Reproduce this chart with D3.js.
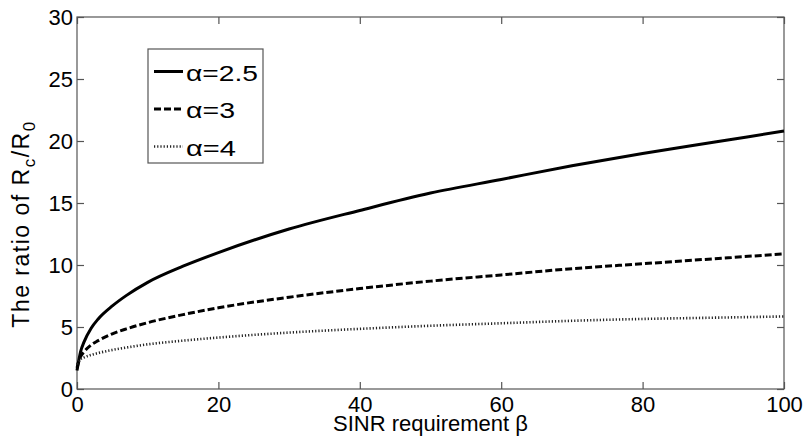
<!DOCTYPE html>
<html>
<head>
<meta charset="utf-8">
<script src="https://cdn.jsdelivr.net/npm/d3@7"></script>
<style>
  body { margin: 0; background: #fff; }
  text { font-family: "Liberation Sans", Arial, sans-serif; fill: #000; }
</style>
</head>
<body>
<div id="chart"></div>
<script>
const betas    = [0, 0.5, 1, 2, 3, 5, 7, 10, 15, 20, 30, 40, 50, 60, 70, 80, 90, 100];
const alpha25  = [1.5, 3.0, 3.8, 4.9, 5.65, 6.7, 7.55, 8.6, 9.9, 11.0, 12.9, 14.4, 15.8, 16.9, 18.0, 19.0, 19.9, 20.8];
const alpha3   = [1.7, 2.6, 3.0, 3.55, 3.9, 4.45, 4.85, 5.35, 6.0, 6.55, 7.4, 8.1, 8.7, 9.2, 9.7, 10.1, 10.5, 10.9];
const alpha4   = [2.0, 2.4, 2.55, 2.75, 2.9, 3.15, 3.35, 3.6, 3.9, 4.15, 4.55, 4.85, 5.1, 5.3, 5.5, 5.65, 5.75, 5.85];
const seriesNames = ["\u03b1=2.5", "\u03b1=3", "\u03b1=4"];
const xTicks = [0, 20, 40, 60, 80, 100];
const yTicks = [0, 5, 10, 15, 20, 25, 30];

const width = 805, height = 441;
const margin = { top: 17, right: 21, bottom: 52, left: 77 };
const innerWidth  = width  - margin.left - margin.right;
const innerHeight = height - margin.top  - margin.bottom;

const svg = d3.select("#chart")
  .append("svg")
  .attr("width", width)
  .attr("height", height);

const g = svg.append("g")
  .attr("transform", `translate(${margin.left}, ${margin.top})`);

const xScale = d3.scaleLinear().domain([0, 100]).range([0, innerWidth]);
const yScale = d3.scaleLinear().domain([0, 30]).range([innerHeight, 0]);

// box
g.append("rect")
  .attr("width", innerWidth)
  .attr("height", innerHeight)
  .attr("fill", "none")
  .attr("stroke", "#555")
  .attr("stroke-width", 1.2);

// ticks inward on all sides
const styleAxis = sel => {
  sel.select(".domain").remove();
  sel.selectAll(".tick line").attr("stroke", "#555").attr("stroke-width", 1.2);
  sel.selectAll(".tick text").style("font-size", "22px").attr("fill", "#000");
};
const noLabels = sel => {
  sel.select(".domain").remove();
  sel.selectAll(".tick text").remove();
  sel.selectAll(".tick line").attr("stroke", "#555").attr("stroke-width", 1.2);
};

g.append("g")
  .attr("transform", `translate(0, ${innerHeight})`)
  .call(d3.axisBottom(xScale).tickValues(xTicks).tickSizeInner(-7).tickPadding(7))
  .call(styleAxis);

g.append("g")
  .call(d3.axisTop(xScale).tickValues(xTicks).tickSizeInner(-7))
  .call(noLabels);

g.append("g")
  .call(d3.axisLeft(yScale).tickValues(yTicks).tickSizeInner(-7).tickPadding(4))
  .call(styleAxis);

g.append("g")
  .attr("transform", `translate(${innerWidth}, 0)`)
  .call(d3.axisRight(yScale).tickValues(yTicks).tickSizeInner(-7))
  .call(noLabels);

// lines
const styles = [
  { dash: null,      w: 3,   color: "#000" },
  { dash: "7,3",     w: 3,   color: "#000" },
  { dash: "1.2,2",   w: 2.6, color: "#222" }
];
const allSeries = [alpha25, alpha3, alpha4];

const line = d3.line()
  .x((d, i) => xScale(betas[i]))
  .y(d => yScale(d))
  .curve(d3.curveMonotoneX);

g.selectAll(".series")
  .data(allSeries)
  .join("path")
    .attr("class", "series")
    .attr("fill", "none")
    .attr("stroke", (d, i) => styles[i].color)
    .attr("stroke-width", (d, i) => styles[i].w)
    .attr("stroke-dasharray", (d, i) => styles[i].dash)
    .attr("d", line);

// legend
const legendRows = [22.5, 60, 97.5];
const legendWidths = [72, 49, 50];
const legend = svg.append("g").attr("transform", "translate(148, 49)");
legend.append("rect")
  .attr("width", 115)
  .attr("height", 114)
  .attr("fill", "#fff")
  .attr("stroke", "#555")
  .attr("stroke-width", 1.2);

seriesNames.forEach((name, i) => {
  const y = legendRows[i];
  legend.append("line")
    .attr("x1", 6).attr("x2", 35)
    .attr("y1", y).attr("y2", y)
    .attr("stroke", styles[i].color)
    .attr("stroke-width", styles[i].w)
    .attr("stroke-dasharray", styles[i].dash);
  legend.append("text")
    .attr("x", 38)
    .attr("y", y + 9)
    .attr("textLength", legendWidths[i])
    .attr("lengthAdjust", "spacingAndGlyphs")
    .style("font-size", "22px")
    .text(name);
});

// axis titles
svg.append("text")
  .attr("x", margin.left + innerWidth / 2)
  .attr("y", 431)
  .attr("text-anchor", "middle")
  .style("font-size", "22px")
  .text("SINR requirement \u03b2");

const yTitle = svg.append("text")
  .attr("transform", "translate(29, 224) rotate(-90)")
  .attr("text-anchor", "middle")
  .style("font-size", "23px")
  .style("letter-spacing", "1.5px");
yTitle.append("tspan").text("The ratio of R");
yTitle.append("tspan").attr("dy", 6).style("font-size", "17px").text("c");
yTitle.append("tspan").attr("dy", -6).text("/R");
yTitle.append("tspan").attr("dy", 6).style("font-size", "17px").text("0");
</script>
</body>
</html>
